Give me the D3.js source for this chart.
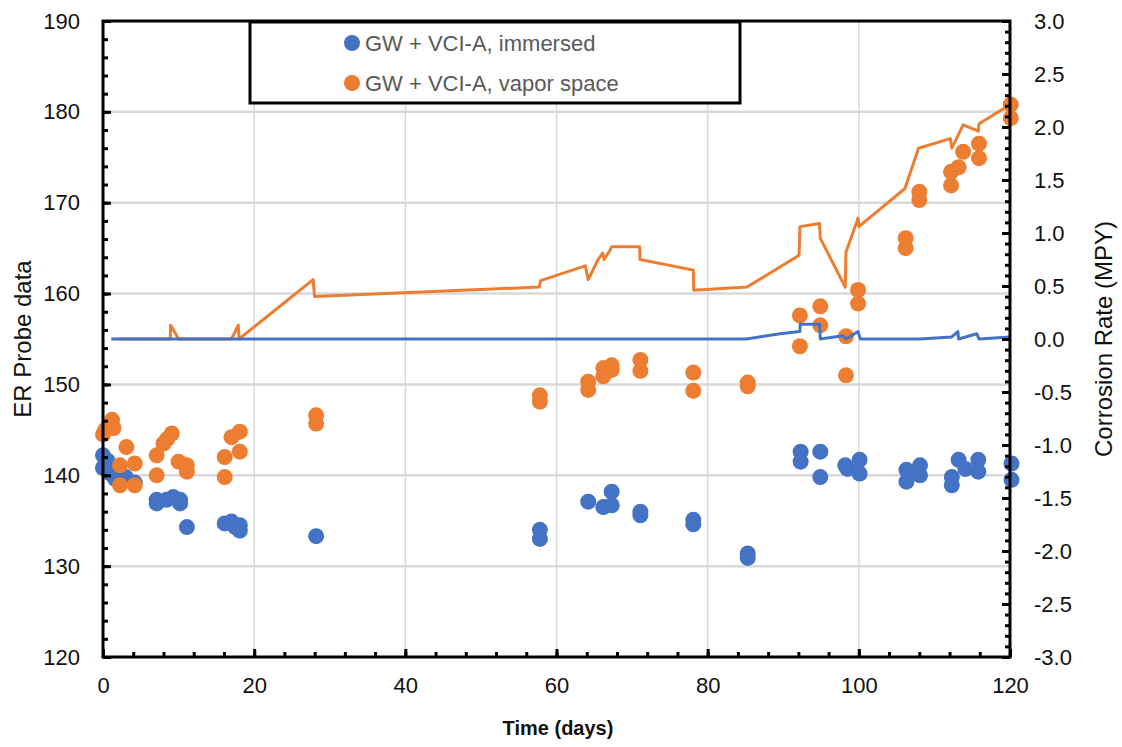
<!DOCTYPE html>
<html>
<head>
<meta charset="utf-8">
<script src="https://cdn.jsdelivr.net/npm/d3@7/dist/d3.min.js"></script>
<style>
  html, body { margin: 0; padding: 0; background: #fff; }
  svg { display: block; font-family: "Liberation Sans", Arial, sans-serif; }
</style>
</head>
<body>
<svg id="chart" width="1122" height="747"></svg>
<script>
// ---------- data ----------
const seriesNames = ["GW + VCI-A, immersed", "GW + VCI-A, vapor space"];

// ER probe data (left axis) - immersed
const immersedDays = [0, 0, 0.6, 1.0, 1.6, 3.0, 4.2, 7.1, 7.1, 8.4, 9.3, 10.2, 10.2, 11.1, 16.1, 17.0, 17.5, 18.1, 18.1, 28.2,
  57.8, 57.8, 64.2, 66.2, 67.3, 67.3, 71.1, 71.1, 78.1, 78.1, 85.3, 85.3, 92.3, 92.3, 94.9, 94.9, 98.2, 98.5, 100.1, 100.1,
  106.3, 106.3, 108.1, 108.1, 112.3, 112.3, 113.2, 114.1, 115.8, 115.8, 120.2, 120.2];
const immersedER = [142.2, 140.8, 141.6, 140.2, 139.6, 139.8, 139.2, 137.3, 136.9, 137.3, 137.6, 137.3, 136.9, 134.3, 134.7, 134.9, 134.3, 134.5, 133.9, 133.3,
  134.0, 133.0, 137.1, 136.5, 138.2, 136.7, 136.0, 135.6, 135.1, 134.6, 131.4, 130.9, 142.6, 141.5, 142.6, 139.8, 141.1, 140.7, 141.7, 140.2,
  140.6, 139.3, 141.1, 140.0, 139.8, 138.9, 141.7, 140.7, 141.7, 140.4, 141.3, 139.5];

// ER probe data (left axis) - vapor space
const vaporDays = [0, 0.3, 1.2, 1.4, 2.25, 2.25, 3.1, 4.2, 4.2, 7.1, 7.1, 8.0, 8.5, 9.1, 10.0, 11.1, 11.1, 16.1, 16.1, 17.0, 18.1, 18.1, 28.2, 28.2,
  57.8, 57.8, 64.2, 64.2, 66.2, 66.2, 67.3, 67.3, 71.1, 71.1, 78.1, 78.1, 85.3, 85.3, 92.2, 92.2, 94.9, 94.9, 98.3, 98.3, 99.9, 99.9,
  106.2, 106.2, 108.0, 108.0, 112.2, 112.2, 113.2, 113.8, 115.9, 115.9, 120.1, 120.1];
const vaporER = [144.5, 145.0, 146.1, 145.2, 141.1, 138.9, 143.1, 141.3, 138.9, 142.2, 140.0, 143.5, 144.0, 144.6, 141.5, 141.1, 140.4, 142.0, 139.8, 144.2, 144.8, 142.6, 146.6, 145.7,
  148.8, 148.1, 150.3, 149.4, 151.8, 150.9, 152.1, 151.6, 152.7, 151.5, 151.3, 149.3, 150.2, 149.8, 157.6, 154.2, 158.6, 156.5, 155.3, 151.0, 160.4, 158.9,
  166.1, 165.0, 171.2, 170.3, 173.4, 171.9, 173.9, 175.6, 176.5, 174.9, 180.8, 179.3];

// Corrosion rate (right axis) - immersed
const immersedRateDays = [1.1, 85.1, 89.6, 92.2, 92.25, 94.8, 94.9, 97.9, 98.3, 99.9, 100.2, 108.1, 112.3, 113.1, 113.2, 115.6, 115.9, 120];
const immersedRate = [0, 0, 0.05, 0.07, 0.14, 0.14, 0, 0.03, 0, 0.07, 0, 0, 0.02, 0.07, 0, 0.05, 0, 0.02];

// Corrosion rate (right axis) - vapor space
const vaporRateDays = [2.0, 8.9, 8.95, 10.0, 17.0, 17.9, 18.0, 27.8, 28.0, 57.7, 57.9, 63.8, 64.2, 65.5, 66.1, 66.3, 67.1, 67.3, 71.0, 71.05,
  78.1, 78.15, 85.2, 92.1, 92.2, 94.8, 94.9, 98.2, 98.3, 99.9, 100.0, 106.1, 107.9, 112.1, 112.3, 113.8, 115.8, 115.9, 120];
const vaporRate = [0, 0, 0.13, 0, 0, 0.13, 0, 0.56, 0.40, 0.49, 0.55, 0.69, 0.56, 0.75, 0.81, 0.75, 0.84, 0.87, 0.87, 0.75,
  0.65, 0.46, 0.49, 0.79, 1.06, 1.09, 0.95, 0.49, 0.82, 1.14, 1.06, 1.42, 1.80, 1.89, 1.80, 2.02, 1.96, 2.03, 2.21];

// ticks
const xTicks = [0, 20, 40, 60, 80, 100, 120];
const leftTicks = [120, 130, 140, 150, 160, 170, 180, 190];
const rightTicks = [-3, -2.5, -2, -1.5, -1, -0.5, 0, 0.5, 1, 1.5, 2, 2.5, 3];

// ---------- layout ----------
const blue = "#4472C4", orange = "#ED7D31";
const L = 103, R = 1010, T = 21, B = 657;
const svg = d3.select("#chart");

const x = d3.scaleLinear().domain([0, 120]).range([L, R]);
const yL = d3.scaleLinear().domain([120, 190]).range([B, T]);
const yR = d3.scaleLinear().domain([-3, 3]).range([B, T]);

// gridlines
svg.append("g").selectAll("line").data(leftTicks.slice(1, -1)).join("line")
  .attr("x1", L).attr("x2", R).attr("y1", d => yL(d)).attr("y2", d => yL(d))
  .attr("stroke", "#d9d9d9").attr("stroke-width", 2.5);
svg.append("g").selectAll("line").data(xTicks.slice(1, -1)).join("line")
  .attr("y1", T).attr("y2", B).attr("x1", d => x(d)).attr("x2", d => x(d))
  .attr("stroke", "#d9d9d9").attr("stroke-width", 1.5);

// scatter
svg.append("g").selectAll("circle").data(immersedDays.map((d, i) => [d, immersedER[i]])).join("circle")
  .attr("cx", d => x(d[0])).attr("cy", d => yL(d[1])).attr("r", 8).attr("fill", blue);
svg.append("g").selectAll("circle").data(vaporDays.map((d, i) => [d, vaporER[i]])).join("circle")
  .attr("cx", d => x(d[0])).attr("cy", d => yL(d[1])).attr("r", 8).attr("fill", orange);

// lines
const line = d3.line().x(d => x(d[0])).y(d => yR(d[1]));
svg.append("path").datum(vaporRateDays.map((d, i) => [d, vaporRate[i]]))
  .attr("d", line).attr("fill", "none").attr("stroke", orange).attr("stroke-width", 3).attr("stroke-linejoin", "round");
svg.append("path").datum(immersedRateDays.map((d, i) => [d, immersedRate[i]]))
  .attr("d", line).attr("fill", "none").attr("stroke", blue).attr("stroke-width", 3).attr("stroke-linejoin", "round");

// axes
const tickColor = "#111";
function styleAxis(g, fs) {
  g.select(".domain").remove();
  g.selectAll("line").attr("stroke", "#000").attr("stroke-width", 3);
  g.selectAll("text").attr("font-size", fs).attr("fill", tickColor)
    .attr("font-family", "'Liberation Sans', Arial, sans-serif");
}
// minor ticks
svg.append("g").attr("transform", `translate(${L},0)`)
  .call(d3.axisLeft(yL).tickValues(d3.range(120, 191, 2)).tickSize(-5).tickFormat(""))
  .call(g => styleAxis(g, 0));
svg.append("g").attr("transform", `translate(${R},0)`)
  .call(d3.axisRight(yR).tickValues(d3.range(-30, 31, 1).map(v => v / 10)).tickSize(-5).tickFormat(""))
  .call(g => styleAxis(g, 0));
svg.append("g").attr("transform", `translate(0,${B})`)
  .call(d3.axisBottom(x).tickValues(d3.range(0, 121, 4)).tickSize(-5).tickFormat(""))
  .call(g => styleAxis(g, 0));
// major ticks
svg.append("g").attr("transform", `translate(${L},0)`)
  .call(d3.axisLeft(yL).tickValues(leftTicks).tickSize(-8).tickPadding(23).tickFormat(d3.format("d")))
  .call(g => styleAxis(g, 22));
svg.append("g").attr("transform", `translate(${R},0)`)
  .call(d3.axisRight(yR).tickValues(rightTicks).tickSize(-8).tickPadding(24).tickFormat(d => d.toFixed(1)))
  .call(g => styleAxis(g, 22));
svg.append("g").attr("transform", `translate(0,${B})`)
  .call(d3.axisBottom(x).tickValues(xTicks).tickSize(-8).tickPadding(20).tickFormat(d3.format("d")))
  .call(g => styleAxis(g, 22));

// frame
svg.append("rect").attr("x", L).attr("y", T).attr("width", R - L).attr("height", B - T)
  .attr("fill", "none").attr("stroke", "#000").attr("stroke-width", 3);

// axis titles
svg.append("text").attr("transform", `translate(31,339) rotate(-90)`).attr("text-anchor", "middle")
  .attr("font-size", 24).attr("fill", tickColor).text("ER Probe data");
svg.append("text").attr("transform", `translate(1112,339) rotate(-90)`).attr("text-anchor", "middle")
  .attr("font-size", 24).attr("fill", tickColor).text("Corrosion Rate (MPY)");
svg.append("text").attr("x", 558).attr("y", 735).attr("text-anchor", "middle")
  .attr("font-size", 20).attr("font-weight", "bold").attr("fill", tickColor).text("Time (days)");

// legend
const lg = svg.append("g");
lg.append("rect").attr("x", 250).attr("y", 22).attr("width", 490).attr("height", 81)
  .attr("fill", "#fff").attr("stroke", "#000").attr("stroke-width", 3);
[blue, orange].forEach((c, i) => {
  const yy = 43 + i * 40;
  lg.append("circle").attr("cx", 352).attr("cy", yy).attr("r", 8).attr("fill", c);
  lg.append("text").attr("x", 365).attr("y", yy + 8).attr("font-size", 22).attr("fill", "#595959")
    .text(seriesNames[i]);
});
</script>
</body>
</html>
